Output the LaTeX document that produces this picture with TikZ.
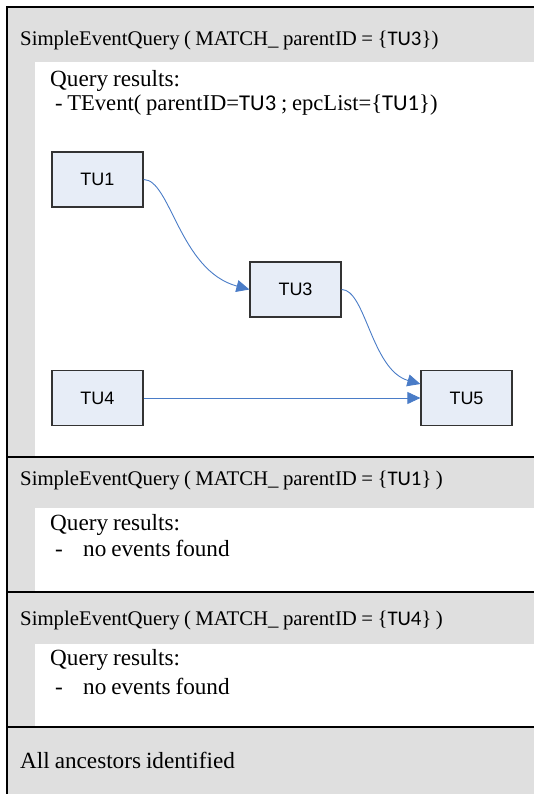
\documentclass[tikz,border=0pt]{standalone}
\usepackage{fontspec}
\setmainfont{Liberation Serif}[WordSpace=0.85]
\newfontfamily\idfont{Carlito}
\newfontfamily\boxfont{Liberation Sans}
\usetikzlibrary{arrows.meta}
\definecolor{bandgray}{HTML}{DFDFDF}
\definecolor{unitfill}{HTML}{E7EDF7}
\definecolor{linkblue}{HTML}{4A7CC7}
\definecolor{unitedge}{HTML}{333333}
\newcommand{\tuid}[1]{{\idfont #1}}
\begin{document}
\begin{tikzpicture}[x=1pt,y=-1pt,
  head/.style={anchor=base west,inner sep=0pt,font=\fontsize{20.8}{24}\selectfont},
  txt/.style={anchor=base west,inner sep=0pt,font=\fontsize{23.2}{26}\selectfont},
  result/.style={anchor=base west,inner sep=0pt,font=\fontsize{22.6}{26}\selectfont},
  unit/.style={draw=unitedge,line width=1.2pt,fill=unitfill,minimum width=91pt,
    minimum height=55pt,inner sep=0pt,font=\boxfont\fontsize{18}{20}\selectfont},
  link/.style={draw=linkblue,line width=0.9pt,-{Triangle[length=13pt,width=12pt]}},
  rule/.style={line width=2.2pt,black}]
\useasboundingbox (0,0) rectangle (534,794);
% grey header bands and left margins
\fill[bandgray] (7,7) rectangle (534,62);
\fill[bandgray] (7,62) rectangle (35,457);
\fill[bandgray] (7,457) rectangle (534,508);
\fill[bandgray] (7,508) rectangle (35,592);
\fill[bandgray] (7,592) rectangle (534,644);
\fill[bandgray] (7,644) rectangle (35,727);
\fill[bandgray] (7,727) rectangle (534,794);
% frame and separators
\draw[rule] (7,794) -- (7,7) -- (534,7);
\draw[rule] (7,457) -- (534,457);
\draw[rule] (7,592) -- (534,592);
\draw[rule] (7,727) -- (534,727);
% first query
\node[head] (h1) at (20,46) {SimpleEventQuery ( MATCH\_ parentID = \{\tuid{TU3}\})};
\node[txt] (r1) at (50,87) {Query results:};
\node[result] (e1) at (50,111) {\ - TEvent( parentID=\tuid{TU3} ; epcList=\{\tuid{TU1}\})};
% trace units
\node[unit] (tu1) at (97.5,179.5) {TU1};
\node[unit] (tu3) at (295.5,289.5) {TU3};
\node[unit] (tu4) at (97.5,398) {TU4};
\node[unit] (tu5) at (466.5,398) {TU5};
\draw[link] (tu1.east) .. controls +(27,0) and +(-70,-19) .. (tu3.west);
\draw[link] (tu3.east) .. controls +(24,0) and +(-49,-14) .. ([yshift=14pt]tu5.west);
\draw[link] (tu4) -- (tu5);
% second query
\node[head] (h2) at (20,485) {SimpleEventQuery ( MATCH\_ parentID = \{\tuid{TU1}\} )};
\node[txt] (r2) at (50,530) {Query results:};
\node[txt] (d2) at (55,556) {-};
\node[txt] (n2) at (83,556) {no events found};
% third query
\node[head] (h3) at (20,625) {SimpleEventQuery ( MATCH\_ parentID = \{\tuid{TU4}\} )};
\node[txt] (r3) at (50,665) {Query results:};
\node[txt] (d3) at (55,694) {-};
\node[txt] (n3) at (83,694) {no events found};
% conclusion
\node[txt] (fin) at (20,768) {All ancestors identified};
\end{tikzpicture}
\end{document}
